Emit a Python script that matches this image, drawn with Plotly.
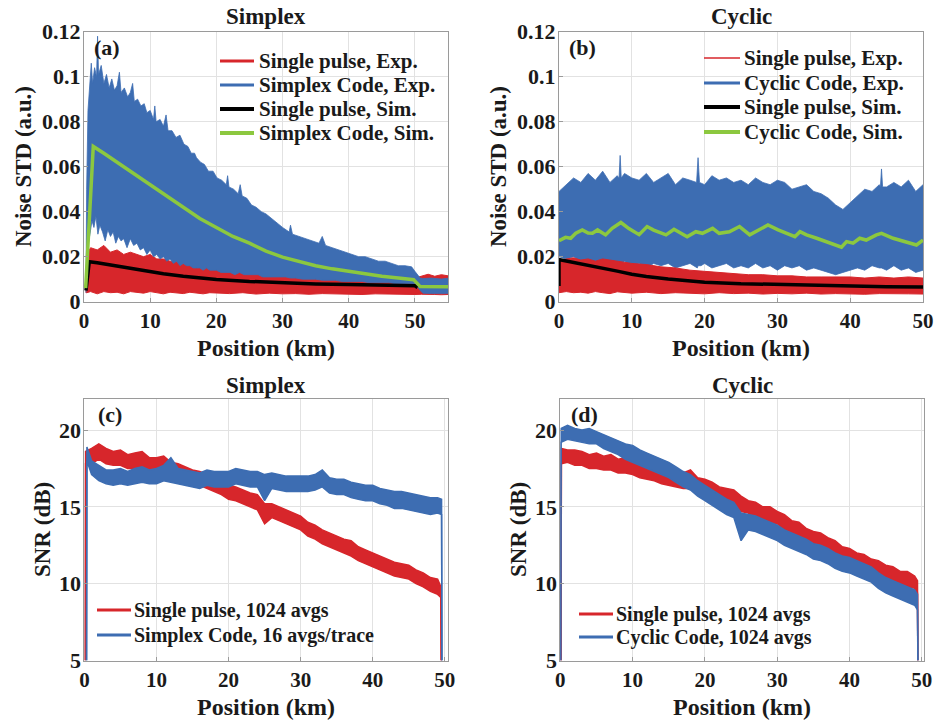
import plotly.graph_objects as go

# ---------------- data ----------------
# (a) Simplex noise STD
a_red_x = [0.30, 0.40, 1, 2, 3, 4, 5, 6, 7, 8, 9, 10, 11, 12, 13, 14, 15, 16, 17, 18, 19, 20,
           22, 24, 26, 28, 30, 32, 34, 36, 38, 40, 42, 44, 46, 48, 50, 51, 52, 53, 54, 55]
a_red_hi = [0.004, 0.021, 0.024, 0.023, 0.025, 0.022, 0.023, 0.021, 0.022, 0.021,
            0.020, 0.021, 0.019, 0.019, 0.018, 0.018, 0.017, 0.0165, 0.016, 0.0155,
            0.015, 0.015, 0.0145, 0.0135, 0.013, 0.0125, 0.012, 0.0115, 0.0115, 0.011,
            0.011, 0.0105, 0.0105, 0.0105, 0.010, 0.010, 0.0105, 0.0115, 0.0122, 0.0113,
            0.0120, 0.0115]
a_red_lo = [0.004, 0.004, 0.0045, 0.0035, 0.0045, 0.004, 0.0042, 0.0035, 0.0045, 0.004,
            0.0038, 0.0045, 0.004, 0.0035, 0.0042, 0.004, 0.0036, 0.0042, 0.004, 0.0035,
            0.004, 0.0038, 0.0036, 0.004, 0.0034, 0.0038, 0.0035, 0.0036, 0.0033, 0.0036,
            0.0034, 0.0035, 0.0032, 0.0035, 0.0033, 0.0034, 0.0032, 0.0033, 0.0031, 0.0032,
            0.0031, 0.0032]

# upper edge of the blue (Simplex code, Exp.) band
a_blue_hi_x = [0.30, 0.40, 0.6, 0.9, 1.1, 1.3, 1.6, 1.9, 2.05, 2.2, 2.6, 3.0, 3.4, 3.8, 4.2,
               4.6, 5.0, 5.35, 5.6, 6.1, 6.6, 7.0, 7.35, 7.6, 8.1, 8.6, 9.1, 9.5, 10.0, 10.5,
               10.7, 10.9, 11.5, 12.0, 12.4, 12.7, 13.3, 13.9, 14.5, 15.1, 15.7, 16.2, 16.7,
               17.0, 17.6, 18.2, 18.8, 19.5, 20.1, 20.8, 21.5, 21.7, 21.9, 22.6, 23.3, 23.6,
               23.9, 24.6, 25.3, 26.0, 26.8, 27.5, 28.3, 29.1, 30.0, 31.0, 31.2, 31.5, 32.5,
               33.5, 34.5, 35.5, 36.0, 36.5, 37.5, 38.5, 39.5, 40.5, 41.5, 42.5, 43.5, 44.5,
               45.5, 46.5, 47.5, 48.5, 49.5, 50.0, 50.8, 51.2, 52.5, 54.0, 55.0]
a_blue_hi = [0.005, 0.050, 0.085, 0.098, 0.106, 0.097, 0.104, 0.100, 0.118, 0.101, 0.105,
             0.097, 0.101, 0.095, 0.099, 0.094, 0.096, 0.102, 0.093, 0.095, 0.091, 0.093,
             0.097, 0.089, 0.090, 0.087, 0.088, 0.084, 0.085, 0.081, 0.087, 0.080, 0.081,
             0.078, 0.083, 0.076, 0.076, 0.073, 0.074, 0.070, 0.069, 0.066, 0.066, 0.064,
             0.062, 0.061, 0.058, 0.058, 0.055, 0.054, 0.052, 0.056, 0.051, 0.050, 0.048,
             0.052, 0.047, 0.046, 0.043, 0.042, 0.040, 0.039, 0.037, 0.035, 0.033, 0.031,
             0.034, 0.030, 0.029, 0.028, 0.027, 0.026, 0.029, 0.025, 0.024, 0.023, 0.022,
             0.021, 0.020, 0.020, 0.019, 0.018, 0.018, 0.017, 0.016, 0.016, 0.0155, 0.0135,
             0.0105, 0.0103, 0.0105, 0.0101, 0.0104]
# lower edge of the blue band
a_blue_lo_x = [0.30, 0.40, 0.6, 0.9, 1.2, 1.5, 1.8, 2.1, 2.4, 2.8,
               3.2, 3.6, 4.0, 4.4, 4.8, 5.2, 5.6, 6.0,
               6.5, 7.0, 7.5, 8.0, 8.5, 9.0, 9.5, 10.0, 10.5, 11.0, 11.5, 12.0, 12.5, 13.0,
               13.5, 14.0, 14.5, 15.0, 15.5, 16.0, 16.5, 17.0, 17.5, 18.0, 18.5, 19.0, 19.5,
               20.0, 20.7, 21.4, 22.1, 22.8, 23.5, 24.2, 24.9, 25.6, 26.3, 27.0, 27.7, 28.4,
               29.1, 29.8, 30.5, 31.2,
               32, 33, 34, 35, 36, 37, 38, 39, 40, 41, 42, 43, 44, 45, 46, 47, 48, 49, 50,
               50.8, 51.2, 52.5, 54, 55]
a_blue_lo = [0.004, 0.015, 0.025, 0.030, 0.036, 0.033, 0.038, 0.030, 0.034, 0.031,
             0.027, 0.032, 0.029, 0.031, 0.026, 0.029, 0.027, 0.028,
             0.024, 0.028, 0.025, 0.026, 0.023, 0.024, 0.021, 0.023, 0.020, 0.021,
             0.019, 0.020, 0.018, 0.019, 0.017, 0.018, 0.016, 0.017, 0.016, 0.016,
             0.015, 0.015, 0.015, 0.014, 0.015, 0.014, 0.014, 0.014,
             0.013, 0.013, 0.013, 0.012, 0.013, 0.012, 0.012, 0.012, 0.012, 0.011,
             0.011, 0.011, 0.011, 0.011, 0.011, 0.0105,
             0.0105, 0.010, 0.010, 0.010, 0.0095, 0.0095, 0.0095, 0.009, 0.009, 0.009,
             0.009, 0.0085, 0.0085, 0.0085, 0.0085, 0.008, 0.008, 0.008, 0.008,
             0.005, 0.0038, 0.0036, 0.0038, 0.0036]

a_black_x = [0.30, 0.8, 2, 4, 6, 8, 10, 12, 15, 18, 20, 25, 30, 35, 40, 45, 50, 50.4]
a_black_y = [0.005, 0.0178, 0.0173, 0.0163, 0.0153, 0.0142, 0.0132, 0.0124, 0.0113, 0.0104,
             0.0099, 0.009, 0.0084, 0.0079, 0.0076, 0.0073, 0.0071, 0.0063]

a_green_x = [0.25, 1.4, 3, 5, 7.5, 10, 12.5, 15, 17.5, 20, 22.5, 25, 27.5, 30, 32.5, 35,
             37.5, 40, 42.5, 45, 47.5, 49.8, 50.8, 55]
a_green_y = [0.006, 0.069, 0.066, 0.062, 0.057, 0.052, 0.047, 0.042, 0.037, 0.033, 0.029,
             0.026, 0.0225, 0.0198, 0.0178, 0.016, 0.0146, 0.0134, 0.0122, 0.0113, 0.0105,
             0.0098, 0.0067, 0.0066]

# (b) Cyclic noise STD
b_red_x = [0, 1, 2, 3, 4, 5, 6, 7, 8, 9, 10, 12, 14, 16, 18, 20, 22, 24, 26, 28, 30,
           32, 34, 36, 38, 40, 42, 44, 46, 48, 50]
b_red_hi = [0.018, 0.019, 0.0195, 0.0185, 0.019, 0.018, 0.019, 0.0185, 0.018, 0.0175,
            0.017, 0.0165, 0.0155, 0.015, 0.014, 0.0135, 0.013, 0.0125, 0.012, 0.012,
            0.0115, 0.0115, 0.011, 0.011, 0.011, 0.011, 0.0105, 0.011, 0.0105, 0.011,
            0.0105]
b_red_lo = [0.004, 0.0045, 0.004, 0.0042, 0.0038, 0.0045, 0.004, 0.0036, 0.0044, 0.004,
            0.0038, 0.0042, 0.0036, 0.004, 0.0038, 0.0035, 0.0040, 0.0036, 0.0038, 0.0034,
            0.0037, 0.0035, 0.0038, 0.0034, 0.0036, 0.0035, 0.0033, 0.0036, 0.0034, 0.0035,
            0.0034]

b_blue_hi_x = [0, 1, 2, 3, 4, 5, 6, 7, 8, 8.25, 8.4, 8.55, 9, 10, 11, 12, 13, 14, 15, 16, 17,
               18, 18.9, 19.1, 19.3, 20, 21, 22, 23, 24, 25, 26, 27, 28, 29, 30, 31, 32, 33,
               34, 35, 36, 37, 38, 39, 40, 41, 42, 43, 44, 44.15, 44.3, 44.45, 45, 46, 47,
               48, 49, 50]
b_blue_hi = [0.049, 0.052, 0.055, 0.053, 0.057, 0.054, 0.058, 0.053, 0.056, 0.055, 0.065,
             0.055, 0.057, 0.055, 0.054, 0.057, 0.053, 0.055, 0.057, 0.052, 0.055, 0.054,
             0.053, 0.064, 0.053, 0.052, 0.056, 0.054, 0.055, 0.053, 0.054, 0.052, 0.055,
             0.053, 0.052, 0.054, 0.053, 0.050, 0.051, 0.052, 0.049, 0.048, 0.046, 0.043,
             0.041, 0.044, 0.047, 0.050, 0.049, 0.052, 0.051, 0.059, 0.051, 0.051, 0.053,
             0.051, 0.054, 0.049, 0.052]
b_blue_lo_x = [0, 1, 2, 3, 4, 5, 6, 7, 8, 8.4, 9, 10, 11, 12, 13, 14, 15, 16, 17, 18, 19,
               19.1, 19.5, 20, 21, 22, 23, 24, 25, 26, 27, 28, 29, 30, 31, 32, 33, 34, 35, 36,
               37, 38, 39, 40, 41, 42, 43, 44, 44.3, 45, 46, 47, 48, 49, 50]
b_blue_lo = [0.020, 0.019, 0.020, 0.018, 0.019, 0.017, 0.018, 0.016, 0.017, 0.016,
             0.018, 0.016, 0.017, 0.015, 0.017, 0.016, 0.017, 0.015, 0.016, 0.017,
             0.015, 0.016, 0.016, 0.017, 0.015, 0.016, 0.017, 0.015, 0.016, 0.015,
             0.017, 0.015, 0.016, 0.014, 0.016, 0.015, 0.016, 0.014, 0.015, 0.014,
             0.013, 0.012, 0.013, 0.014, 0.015, 0.014, 0.016, 0.015, 0.015, 0.014,
             0.016, 0.014, 0.015, 0.013, 0.014]

b_black_x = [0, 0, 0.3, 2, 4, 6, 8, 10, 12, 15, 18, 20, 25, 30, 35, 40, 45, 50]
b_black_y = [0.007, 0.0187, 0.0185, 0.0175, 0.0163, 0.0151, 0.0136, 0.0122, 0.0112, 0.0101,
             0.0092, 0.0087, 0.008, 0.0076, 0.0072, 0.0069, 0.0067, 0.0065]

b_green_x = [0, 0.9, 1.6, 2.3, 3.2, 4.0, 4.6, 5.3, 6.4, 7.3, 8.5, 9.6, 11.0, 12.1, 13.0,
             13.7, 14.7, 15.8, 16.7, 17.6, 18.8, 19.7, 21.1, 22.0, 23.4, 24.8, 26.2, 27.5,
             28.7, 30.1, 31.2, 32.4, 33.1, 34.0, 35.4, 36.8, 38.8, 39.5, 40.4, 41.3, 42.2,
             43.6, 44.3, 45.9, 47.7, 49.1, 50.0]
b_green_y = [0.0271, 0.0286, 0.0282, 0.0304, 0.0319, 0.0305, 0.0304, 0.0319, 0.0297, 0.0326,
             0.0352, 0.0325, 0.0298, 0.0334, 0.0318, 0.0311, 0.0297, 0.0322, 0.0305, 0.0289,
             0.0311, 0.0304, 0.0326, 0.0304, 0.0311, 0.0334, 0.0297, 0.0319, 0.0341, 0.0319,
             0.0304, 0.0289, 0.0311, 0.0297, 0.0282, 0.0267, 0.0242, 0.0267, 0.0260, 0.0282,
             0.0274, 0.0297, 0.0304, 0.0282, 0.0267, 0.0252, 0.0274]

# (c) Simplex SNR
km = list(range(1, 50))
c_red_x = [0.10, 0.15] + km + [49.45, 49.5]
c_red_hi = [5, 18.6, 18.8, 19.1, 18.8, 18.6, 18.7, 18.4, 18.5, 18.6,
            18.2, 18.2, 18.3, 17.9, 17.8, 17.6, 17.4, 17.3, 17.1, 16.9,
            16.7, 16.4, 16.3, 16.1, 15.9, 15.8, 15.2, 15.2, 15.0, 14.8,
            14.6, 14.4, 14.0, 13.8, 13.5, 13.3, 13.1, 12.9, 12.8, 12.4,
            12.2, 12.0, 11.8, 11.6, 11.4, 11.3, 11.2, 10.9, 10.7, 10.4,
            10.3, 9.8, 5]
c_red_lo = [5, 17.8, 17.8, 18.1, 17.8, 17.7, 17.7, 17.5, 17.5, 17.4,
            17.3, 17.3, 17.2, 17.0, 16.9, 16.7, 16.5, 16.4, 16.2, 16.0,
            15.8, 15.5, 15.4, 15.2, 15.0, 14.8, 13.9, 14.3, 14.1, 13.9,
            13.7, 13.5, 13.1, 12.9, 12.6, 12.4, 12.2, 12.0, 11.8, 11.5,
            11.3, 11.1, 10.9, 10.7, 10.5, 10.4, 10.3, 10.0, 9.8, 9.5,
            9.3, 9.1, 5]
c_blue_x = [0.30, 0.35] + km + [49.55, 49.6]
c_blue_hi = [5, 18.9, 18.0, 17.7, 17.4, 17.4, 17.5, 17.3, 17.5, 17.6,
             17.4, 17.5, 17.7, 18.2, 17.5, 17.4, 17.3, 17.2, 17.4, 17.3,
             17.3, 17.3, 17.5, 17.4, 17.3, 17.3, 17.1, 17.2, 17.1, 17.0,
             17.0, 17.0, 17.0, 17.1, 17.4, 16.9, 16.8, 16.8, 16.6, 16.5,
             16.4, 16.4, 16.2, 16.1, 16.0, 16.0, 15.9, 15.8, 15.7, 15.6,
             15.6, 15.5, 5]
c_blue_lo = [5, 18.0, 17.1, 16.7, 16.5, 16.4, 16.5, 16.4, 16.5, 16.6,
             16.5, 16.5, 16.7, 16.6, 16.5, 16.4, 16.3, 16.2, 16.4, 16.3,
             16.3, 16.3, 16.5, 16.4, 16.3, 16.3, 15.4, 16.2, 16.1, 16.0,
             16.0, 16.0, 16.0, 16.1, 16.3, 15.9, 15.8, 15.8, 15.6, 15.5,
             15.4, 15.4, 15.2, 15.1, 14.9, 14.9, 14.8, 14.7, 14.6, 14.5,
             14.6, 14.5, 5]

# (d) Cyclic SNR
d_red_x = [0.10, 0.15] + km + [49.4, 49.45]
d_red_hi = [5, 18.8, 18.7, 18.7, 18.6, 18.4, 18.5, 18.3, 18.4, 18.1,
            18.2, 18.0, 17.8, 17.8, 17.6, 17.4, 17.4, 17.2, 17.2, 17.4,
            16.9, 16.8, 16.6, 16.3, 16.2, 16.1, 15.7, 15.4, 15.3, 15.0,
            15.0, 14.7, 14.5, 14.1, 14.0, 13.6, 13.4, 13.3, 13.0, 12.8,
            12.4, 12.3, 12.0, 11.9, 11.6, 11.5, 11.2, 11.1, 10.8, 10.8,
            10.5, 10.2, 5]
d_red_lo = [5, 17.8, 17.9, 17.7, 17.7, 17.5, 17.5, 17.4, 17.4, 17.2,
            17.2, 17.1, 16.9, 16.8, 16.7, 16.5, 16.4, 16.3, 16.2, 16.2,
            16.0, 15.8, 15.7, 15.4, 15.2, 15.1, 14.7, 14.6, 14.3, 14.2,
            14.0, 13.9, 13.5, 13.3, 13.0, 12.8, 12.4, 12.3, 12.1, 11.8,
            11.6, 11.3, 11.2, 10.9, 10.8, 10.5, 10.4, 10.1, 10.0, 9.8,
            9.7, 9.4, 5]
d_blue_x = [0.05, 0.10] + km + [49.4, 49.45]
d_blue_hi = [5, 20.1, 20.3, 20.1, 20.0, 20.1, 19.9, 19.7, 19.5, 19.3,
             19.1, 19.0, 18.7, 18.5, 18.3, 18.1, 17.9, 17.6, 17.3, 17.1,
             16.7, 16.4, 16.1, 15.8, 15.5, 15.3, 14.6, 14.5, 14.4, 14.2,
             14.0, 13.8, 13.5, 13.3, 13.1, 12.9, 12.6, 12.5, 12.3, 12.0,
             11.8, 11.7, 11.5, 11.3, 11.1, 10.7, 10.4, 10.2, 10.0, 9.8,
             9.6, 9.3, 5]
d_blue_lo = [5, 19.2, 19.4, 19.3, 19.2, 19.1, 19.1, 18.8, 18.6, 18.4,
             18.1, 17.9, 17.7, 17.5, 17.3, 17.1, 16.9, 16.6, 16.3, 16.1,
             15.7, 15.4, 15.1, 14.8, 14.5, 14.3, 12.8, 13.5, 13.4, 13.2,
             13.0, 12.8, 12.5, 12.3, 12.1, 11.9, 11.6, 11.5, 11.3, 11.0,
             10.8, 10.7, 10.5, 10.3, 10.1, 9.7, 9.4, 9.2, 9.0, 8.8,
             8.6, 8.3, 5]

top_titles = ["Simplex", "Cyclic", "Simplex", "Cyclic"]
panel_tags = ["(a)", "(b)", "(c)", "(d)"]
legend_a = ["Single pulse, Exp.", "Simplex Code, Exp.", "Single pulse, Sim.", "Simplex Code, Sim."]
legend_b = ["Single pulse, Exp.", "Cyclic Code, Exp.", "Single pulse, Sim.", "Cyclic Code, Sim."]
legend_c = ["Single pulse, 1024 avgs", "Simplex Code, 16 avgs/trace"]
legend_d = ["Single pulse, 1024 avgs", "Cyclic Code, 1024 avgs"]
noise_ticks = [0, 0.02, 0.04, 0.06, 0.08, 0.1, 0.12]
snr_ticks = [5, 10, 15, 20]
km_ticks = [0, 10, 20, 30, 40, 50]

# ---------------- styling ----------------
RED = "#d7262b"
BLUE = "#3d6db2"
BLACK = "#000000"
GREEN = "#8cc83f"
TXT = "#1a1a1a"
FONT = "Liberation Serif"
W, H = 936, 723

fig = go.Figure()


def band(xh, hi, xl, lo, color, xa, ya, lw=1.0):
    fig.add_trace(go.Scatter(x=xh, y=hi, mode="lines", line=dict(color=color, width=lw),
                             xaxis=xa, yaxis=ya, showlegend=False, hoverinfo="skip"))
    fig.add_trace(go.Scatter(x=xl, y=lo, mode="lines", line=dict(color=color, width=lw),
                             fill="tonexty", fillcolor=color, xaxis=xa, yaxis=ya,
                             showlegend=False, hoverinfo="skip"))


def line(x, y, color, width, xa, ya):
    fig.add_trace(go.Scatter(x=x, y=y, mode="lines", line=dict(color=color, width=width),
                             xaxis=xa, yaxis=ya, showlegend=False, hoverinfo="skip"))


# (a)
band(a_red_x, a_red_hi, a_red_x, a_red_lo, RED, "x", "y")
band(a_blue_hi_x, a_blue_hi, a_blue_lo_x, a_blue_lo, BLUE, "x", "y", 0.8)
line(a_black_x, a_black_y, BLACK, 3.5, "x", "y")
line(a_green_x, a_green_y, GREEN, 3.5, "x", "y")
# (b)
band(b_blue_hi_x, b_blue_hi, b_blue_lo_x, b_blue_lo, BLUE, "x2", "y2", 0.8)
band(b_red_x, b_red_hi, b_red_x, b_red_lo, RED, "x2", "y2")
line(b_black_x, b_black_y, BLACK, 3.5, "x2", "y2")
line(b_green_x, b_green_y, GREEN, 3.5, "x2", "y2")
# (c)
band(c_red_x, c_red_hi, c_red_x, c_red_lo, RED, "x3", "y3", 1.5)
band(c_blue_x, c_blue_hi, c_blue_x, c_blue_lo, BLUE, "x3", "y3", 1.5)
# (d)
band(d_red_x, d_red_hi, d_red_x, d_red_lo, RED, "x4", "y4", 1.5)
band(d_blue_x, d_blue_hi, d_blue_x, d_blue_lo, BLUE, "x4", "y4", 1.5)


def px(x):
    return x / W


def py(y):
    return 1 - y / H


AXC = "#9a9a9a"
GRID = "#e2e2e2"


def axis(domain, rng, anchor, tickvals, size, standoff=0):
    d = dict(domain=domain, range=rng, anchor=anchor, tickvals=tickvals,
             showgrid=True, gridcolor=GRID, gridwidth=1, zeroline=False,
             showline=True, mirror=True, linecolor=AXC, linewidth=1,
             ticks="inside", ticklen=4, tickcolor=AXC, automargin=False,
             tickfont=dict(size=size, family=FONT, color=TXT, weight="bold"),
             fixedrange=True)
    if standoff:
        d["ticklabelstandoff"] = standoff
    return d


fig.update_layout(
    width=W, height=H, autosize=False,
    margin=dict(l=0, r=0, t=0, b=0),
    paper_bgcolor="white", plot_bgcolor="white", showlegend=False,
    font=dict(family=FONT, size=20, color=TXT, weight="bold"),
    xaxis=axis([px(84), px(448)], [0, 55], "y", km_ticks, 21),
    yaxis=axis([py(301.7), py(31.7)], [0, 0.12], "x", noise_ticks, 22, -2),
    xaxis2=axis([px(559), px(923)], [0, 50], "y2", km_ticks, 21),
    yaxis2=axis([py(301.7), py(31.7)], [0, 0.12], "x2", noise_ticks, 22, -2),
    xaxis3=axis([px(84.4), px(447.7)], [0, 50.4], "y3", km_ticks, 21),
    yaxis3=axis([py(660.5), py(399.3)], [5, 22], "x3", snr_ticks, 22, -2),
    xaxis4=axis([px(560.3), px(924)], [0, 50.3], "y4", km_ticks, 21),
    yaxis4=axis([py(660.5), py(399.3)], [5, 22], "x4", snr_ticks, 22, -2),
)

shapes = []
ann = []


def legend_box(labels, colors, widths, x0, x1, xt, rows, size):
    for lab, col, wd, ry in zip(labels, colors, widths, rows):
        shapes.append(dict(type="line", xref="paper", yref="paper",
                           x0=px(x0), x1=px(x1), y0=py(ry), y1=py(ry),
                           line=dict(color=col, width=wd)))
        ann.append(dict(text=lab, x=px(xt), y=py(ry), xref="paper", yref="paper",
                        xanchor="left", yanchor="middle", showarrow=False,
                        font=dict(size=size, family=FONT, color=TXT, weight="bold")))


legend_box(legend_a, [RED, BLUE, BLACK, GREEN], [3, 3, 4, 4], 220, 254, 257,
           [61, 85, 109, 133], 21)
legend_box(legend_b, [RED, BLUE, BLACK, GREEN], [1.5, 3, 4, 4], 704, 740, 742,
           [58, 83, 107, 132], 21)
legend_box(legend_c, [RED, BLUE], [3, 3], 97, 131, 132, [610, 635], 20)
legend_box(legend_d, [RED, BLUE], [3, 3], 579, 613, 614, [614, 637], 20)

for t, (cx, cy) in zip(top_titles, [(266, 16), (741, 16), (266, 385), (742, 385)]):
    ann.append(dict(text=t, x=px(cx), y=py(cy), xref="paper", yref="paper",
                    xanchor="center", yanchor="middle", showarrow=False,
                    font=dict(size=23, family=FONT, color=TXT, weight="bold")))
for t, (lx, cy) in zip(panel_tags, [(92, 48), (567, 48), (96, 414), (569, 414)]):
    ann.append(dict(text=t, x=px(lx), y=py(cy), xref="paper", yref="paper",
                    xanchor="left", yanchor="middle", showarrow=False,
                    font=dict(size=22, family=FONT, color=TXT, weight="bold")))
for cx, cy in [(266, 348), (741, 348), (266, 707), (742, 707)]:
    ann.append(dict(text="Position (km)", x=px(cx), y=py(cy), xref="paper", yref="paper",
                    xanchor="center", yanchor="middle", showarrow=False,
                    font=dict(size=24, family=FONT, color=TXT, weight="bold")))
for t, (cx, cy) in zip(["Noise STD (a.u.)", "Noise STD (a.u.)", "SNR (dB)", "SNR (dB)"],
                       [(23, 167), (498, 167), (42, 530), (518, 530)]):
    ann.append(dict(text=t, x=px(cx), y=py(cy), xref="paper", yref="paper",
                    xanchor="center", yanchor="middle", showarrow=False, textangle=-90,
                    font=dict(size=23, family=FONT, color=TXT, weight="bold")))
fig.update_layout(annotations=ann, shapes=shapes)

fig.write_html("out.html", config={"displayModeBar": False},
               post_script="document.body.style.margin='0px';"
                           "document.body.style.overflow='hidden';")
